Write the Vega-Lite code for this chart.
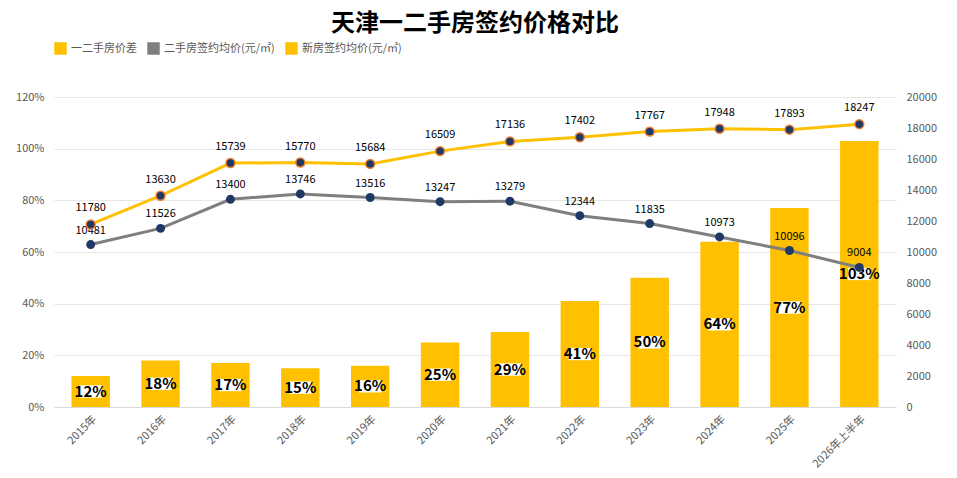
{
  "$schema": "https://vega.github.io/schema/vega-lite/v6.json",
  "autosize": {"type": "fit", "contains": "padding"},
  "width": 957,
  "height": 478,
  "padding": {"left": 15, "right": 20, "top": 12, "bottom": 8},
  "background": "white",
  "title": {"text": "天津一二手房签约价格对比", "fontSize": 24, "fontWeight": "bold", "font": "Noto Sans CJK SC", "color": "#000", "offset": 6},
  "config": {
    "font": "Noto Sans CJK SC",
    "view": {"stroke": null},
    "axis": {"labelColor": "#595959", "labelFontSize": 11, "domain": false, "ticks": false, "title": null},
    "legend": {"orient": "top", "direction": "horizontal", "labelFontSize": 11, "labelColor": "#595959", "title": null, "symbolSize": 120, "columnPadding": 8, "padding": 0, "offset": 40}
  },
  "data": {"values": [
    {"year": "2015年", "pct": 0.12, "old": 10481, "new": 11780},
    {"year": "2016年", "pct": 0.18, "old": 11526, "new": 13630},
    {"year": "2017年", "pct": 0.17, "old": 13400, "new": 15739},
    {"year": "2018年", "pct": 0.15, "old": 13746, "new": 15770},
    {"year": "2019年", "pct": 0.16, "old": 13516, "new": 15684},
    {"year": "2020年", "pct": 0.25, "old": 13247, "new": 16509},
    {"year": "2021年", "pct": 0.29, "old": 13279, "new": 17136},
    {"year": "2022年", "pct": 0.41, "old": 12344, "new": 17402},
    {"year": "2023年", "pct": 0.50, "old": 11835, "new": 17767},
    {"year": "2024年", "pct": 0.64, "old": 10973, "new": 17948},
    {"year": "2025年", "pct": 0.77, "old": 10096, "new": 17893},
    {"year": "2026年上半年", "pct": 1.03, "old": 9004, "new": 18247}
  ]},
  "transform": [{"calculate": "datum.pct / 2", "as": "mid"}],
  "encoding": {
    "x": {"field": "year", "type": "ordinal", "sort": null, "axis": {"labelAngle": -45, "labelPadding": 6, "domain": true, "domainColor": "#d9d9d9"}, "scale": {"paddingInner": 0.45, "paddingOuter": 0.25}}
  },
  "layer": [
    {
      "layer": [
        {
          "mark": {"type": "bar", "color": "#FFC000"},
          "encoding": {
            "y": {"field": "pct", "type": "quantitative", "scale": {"domain": [0, 1.2]}, "axis": {"format": ".0%", "tickCount": 6, "grid": true, "gridColor": "#e6e6e6", "labelPadding": 10}},
            "color": {"datum": "一二手房价差", "type": "nominal", "scale": {"domain": ["一二手房价差", "二手房签约均价(元/㎡)", "新房签约均价(元/㎡)"], "range": ["#FFC000", "#7F7F7F", "#FFC000"]}, "legend": {"symbolType": "square"}}
          }
        },
        {
          "mark": {"type": "point", "shape": "M-1,-0.55H1V0.55H-1Z", "filled": true, "color": "white", "opacity": 1, "size": 500},
          "encoding": {"y": {"field": "mid", "type": "quantitative"}}
        },
        {
          "mark": {"type": "text", "fontSize": 15, "fontWeight": "bold", "color": "#000"},
          "encoding": {"y": {"field": "mid", "type": "quantitative"}, "text": {"field": "pct", "format": ".0%"}}
        }
      ]
    },
    {
      "layer": [
        {
          "mark": {"type": "line", "color": "#7F7F7F", "strokeWidth": 3},
          "encoding": {
            "y": {"field": "old", "type": "quantitative", "scale": {"domain": [0, 20000]}, "axis": {"orient": "right", "tickCount": 10, "format": "d", "grid": false, "labelPadding": 10}},
            "color": {"datum": "二手房签约均价(元/㎡)", "type": "nominal"}
          }
        },
        {
          "mark": {"type": "point", "filled": true, "color": "#1F3864", "size": 80, "opacity": 1},
          "encoding": {"y": {"field": "old", "type": "quantitative"}}
        },
        {
          "mark": {"type": "text", "dy": -14, "fontSize": 11, "color": "#000"},
          "encoding": {"y": {"field": "old", "type": "quantitative"}, "text": {"field": "old"}}
        },
        {
          "mark": {"type": "line", "color": "#FFC000", "strokeWidth": 3},
          "encoding": {
            "y": {"field": "new", "type": "quantitative"},
            "color": {"datum": "新房签约均价(元/㎡)", "type": "nominal"}
          }
        },
        {
          "mark": {"type": "point", "filled": true, "color": "#1F3864", "stroke": "#ED7D31", "strokeWidth": 1.5, "size": 80, "opacity": 1},
          "encoding": {"y": {"field": "new", "type": "quantitative"}}
        },
        {
          "mark": {"type": "text", "dy": -16, "fontSize": 11, "color": "#000"},
          "encoding": {"y": {"field": "new", "type": "quantitative"}, "text": {"field": "new"}}
        }
      ]
    }
  ],
  "resolve": {"scale": {"y": "independent", "color": "shared"}}
}
